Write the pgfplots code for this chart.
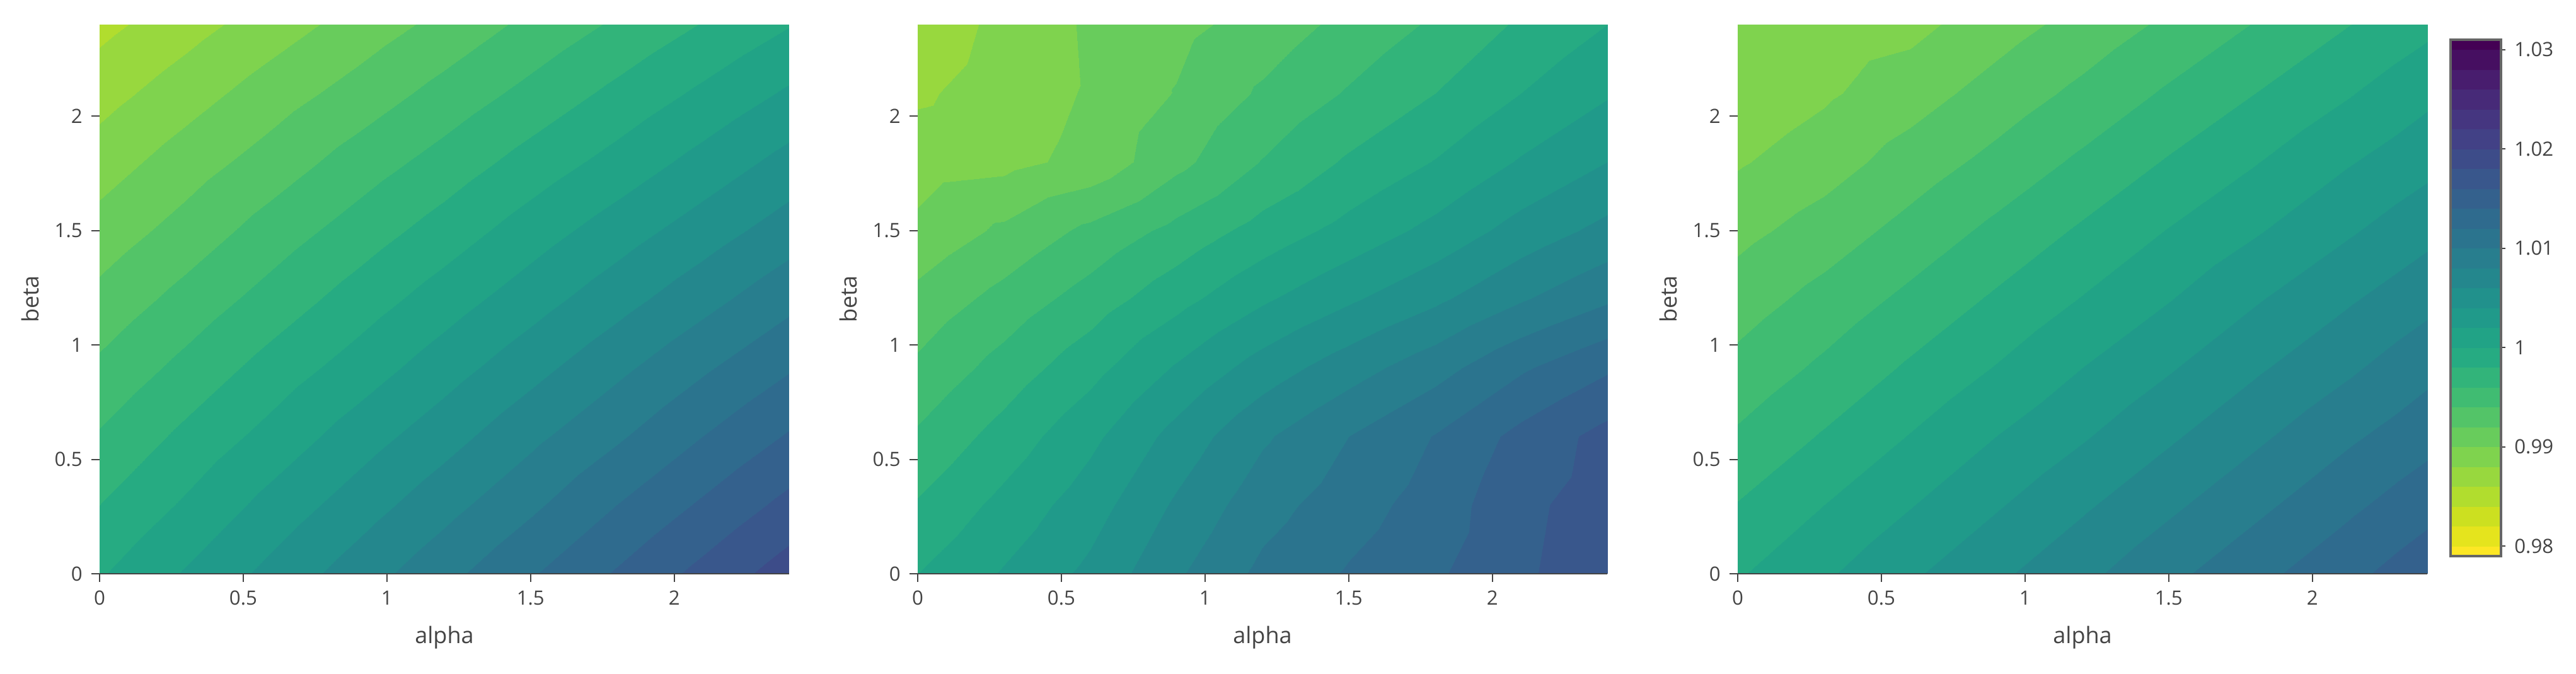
\documentclass[border=0pt]{standalone}
\usepackage{fontspec}
\setmainfont{Open Sans}
\usepackage{pgfplots}
\pgfplotsset{compat=1.18}
\usepackage{pgfplotstable}
\definecolor{axgray}{HTML}{444444}
\definecolor{cbgray}{HTML}{666666}

\pgfplotsset{colormap={plotlyvr}{
rgb255(0pt)=(253,231,37)
rgb255(1pt)=(229,228,29) rgb255(2pt)=(229,228,29)
rgb255(3pt)=(204,224,32) rgb255(4pt)=(204,224,32)
rgb255(5pt)=(177,221,46) rgb255(6pt)=(177,221,46)
rgb255(7pt)=(152,216,62) rgb255(8pt)=(152,216,62)
rgb255(9pt)=(127,211,78) rgb255(10pt)=(127,211,78)
rgb255(11pt)=(104,204,92) rgb255(12pt)=(104,204,92)
rgb255(13pt)=(83,196,104) rgb255(14pt)=(83,196,104)
rgb255(15pt)=(64,188,114) rgb255(16pt)=(64,188,114)
rgb255(17pt)=(50,180,122) rgb255(18pt)=(50,180,122)
rgb255(19pt)=(38,171,130) rgb255(20pt)=(38,171,130)
rgb255(21pt)=(33,163,134) rgb255(22pt)=(33,163,134)
rgb255(23pt)=(32,154,138) rgb255(24pt)=(32,154,138)
rgb255(25pt)=(33,145,140) rgb255(26pt)=(33,145,140)
rgb255(27pt)=(36,135,141) rgb255(28pt)=(36,135,141)
rgb255(29pt)=(40,126,142) rgb255(30pt)=(40,126,142)
rgb255(31pt)=(43,116,142) rgb255(32pt)=(43,116,142)
rgb255(33pt)=(47,107,142) rgb255(34pt)=(47,107,142)
rgb255(35pt)=(52,97,141) rgb255(36pt)=(52,97,141)
rgb255(37pt)=(57,87,140) rgb255(38pt)=(57,87,140)
rgb255(39pt)=(61,76,137) rgb255(40pt)=(61,76,137)
rgb255(41pt)=(66,65,134) rgb255(42pt)=(66,65,134)
rgb255(43pt)=(69,54,128) rgb255(44pt)=(69,54,128)
rgb255(45pt)=(71,42,120) rgb255(46pt)=(71,42,120)
rgb255(47pt)=(72,29,110) rgb255(48pt)=(72,29,110)
rgb255(49pt)=(70,15,97) rgb255(50pt)=(70,15,97)
rgb255(51pt)=(68,1,84) rgb255(52pt)=(68,1,84)
}}

\pgfplotstableread{
x y z
0 0 0.9998
0.3 0 1.0022
0.6 0 1.0046
0.9 0 1.0070
1.2 0 1.0094
1.5 0 1.0118
1.8 0 1.0142
2.1 0 1.0166
2.4 0 1.0190
0 0.3 0.9980
0.3 0.3 1.0003
0.6 0.3 1.0027
0.9 0.3 1.0050
1.2 0.3 1.0073
1.5 0.3 1.0096
1.8 0.3 1.0120
2.1 0.3 1.0143
2.4 0.3 1.0166
0 0.6 0.9962
0.3 0.6 0.9985
0.6 0.6 1.0007
0.9 0.6 1.0030
1.2 0.6 1.0052
1.5 0.6 1.0075
1.8 0.6 1.0097
2.1 0.6 1.0120
2.4 0.6 1.0142
0 0.9 0.9944
0.3 0.9 0.9966
0.6 0.9 0.9988
0.9 0.9 1.0009
1.2 0.9 1.0031
1.5 0.9 1.0053
1.8 0.9 1.0075
2.1 0.9 1.0097
2.4 0.9 1.0118
0 1.2 0.9926
0.3 1.2 0.9947
0.6 1.2 0.9968
0.9 1.2 0.9989
1.2 1.2 1.0010
1.5 1.2 1.0031
1.8 1.2 1.0052
2.1 1.2 1.0073
2.4 1.2 1.0094
0 1.5 0.9908
0.3 1.5 0.9928
0.6 1.5 0.9949
0.9 1.5 0.9969
1.2 1.5 0.9989
1.5 1.5 1.0010
1.8 1.5 1.0030
2.1 1.5 1.0050
2.4 1.5 1.0070
0 1.8 0.9890
0.3 1.8 0.9910
0.6 1.8 0.9929
0.9 1.8 0.9949
1.2 1.8 0.9968
1.5 1.8 0.9988
1.8 1.8 1.0007
2.1 1.8 1.0027
2.4 1.8 1.0047
0 2.1 0.9872
0.3 2.1 0.9891
0.6 2.1 0.9910
0.9 2.1 0.9928
1.2 2.1 0.9947
1.5 2.1 0.9966
1.8 2.1 0.9985
2.1 2.1 1.0004
2.4 2.1 1.0023
0 2.4 0.9854
0.3 2.4 0.9872
0.6 2.4 0.9890
0.9 2.4 0.9908
1.2 2.4 0.9926
1.5 2.4 0.9945
1.8 2.4 0.9963
2.1 2.4 0.9981
2.4 2.4 0.9999
}\tabA

\pgfplotstableread{
x y z
0 0 1.0000
0.3 0 1.0022
0.6 0 1.0045
0.9 0 1.0077
1.2 0 1.0105
1.5 0 1.0122
1.8 0 1.0137
2.1 0 1.0157
2.4 0 1.0172
0 0.3 0.9982
0.3 0.3 1.0006
0.6 0.3 1.0031
0.9 0.3 1.0063
1.2 0.3 1.0092
1.5 0.3 1.0111
1.8 0.3 1.0129
2.1 0.3 1.0155
2.4 0.3 1.0170
0 0.6 0.9963
0.3 0.6 0.9988
0.6 0.6 1.0015
0.9 0.6 1.0047
1.2 0.6 1.0077
1.5 0.6 1.0100
1.8 0.6 1.0121
2.1 0.6 1.0146
2.4 0.6 1.0167
0 0.9 0.9944
0.3 0.9 0.9968
0.6 0.9 0.9993
0.9 0.9 1.0022
1.2 0.9 1.0049
1.5 0.9 1.0071
1.8 0.9 1.0092
2.1 0.9 1.0117
2.4 0.9 1.0137
0 1.2 0.9926
0.3 1.2 0.9947
0.6 1.2 0.9969
0.9 1.2 0.9993
1.2 1.2 1.0017
1.5 1.2 1.0037
1.8 1.2 1.0056
2.1 1.2 1.0078
2.4 1.2 1.0097
0 1.5 0.9905
0.3 1.5 0.9924
0.6 1.5 0.9945
0.9 1.5 0.9966
1.2 1.5 0.9988
1.5 1.5 1.0007
1.8 1.5 1.0026
2.1 1.5 1.0048
2.4 1.5 1.0066
0 1.8 0.9890
0.3 1.8 0.9894
0.6 1.8 0.9906
0.9 1.8 0.9934
1.2 1.8 0.9961
1.5 1.8 0.9983
1.8 1.8 1.0001
2.1 1.8 1.0022
2.4 1.8 1.0040
0 2.1 0.9877
0.3 2.1 0.9889
0.6 2.1 0.9902
0.9 2.1 0.9921
1.2 2.1 0.9943
1.5 2.1 0.9962
1.8 2.1 0.9980
2.1 2.1 1.0000
2.4 2.1 1.0018
0 2.4 0.9868
0.3 2.4 0.9885
0.6 2.4 0.9903
0.9 2.4 0.9914
1.2 2.4 0.9928
1.5 2.4 0.9946
1.8 2.4 0.9963
2.1 2.4 0.9983
2.4 2.4 1.0000
}\tabB

\pgfplotstableread{
x y z
0 0 0.9998
0.3 0 1.0017
0.6 0 1.0037
0.9 0 1.0056
1.2 0 1.0075
1.5 0 1.0095
1.8 0 1.0114
2.1 0 1.0133
2.4 0 1.0153
0 0.3 0.9981
0.3 0.3 1.0000
0.6 0.3 1.0019
0.9 0.3 1.0038
1.2 0.3 1.0057
1.5 0.3 1.0076
1.8 0.3 1.0095
2.1 0.3 1.0114
2.4 0.3 1.0133
0 0.6 0.9963
0.3 0.6 0.9982
0.6 0.6 1.0001
0.9 0.6 1.0020
1.2 0.6 1.0038
1.5 0.6 1.0057
1.8 0.6 1.0076
2.1 0.6 1.0095
2.4 0.6 1.0113
0 0.9 0.9946
0.3 0.9 0.9964
0.6 0.9 0.9983
0.9 0.9 1.0001
1.2 0.9 1.0020
1.5 0.9 1.0038
1.8 0.9 1.0057
2.1 0.9 1.0075
2.4 0.9 1.0094
0 1.2 0.9930
0.3 1.2 0.9947
0.6 1.2 0.9965
0.9 1.2 0.9983
1.2 1.2 1.0001
1.5 1.2 1.0019
1.8 1.2 1.0038
2.1 1.2 1.0056
2.4 1.2 1.0074
0 1.5 0.9914
0.3 1.5 0.9929
0.6 1.5 0.9947
0.9 1.5 0.9965
1.2 1.5 0.9983
1.5 1.5 1.0001
1.8 1.5 1.0018
2.1 1.5 1.0036
2.4 1.5 1.0054
0 1.8 0.9898
0.3 1.8 0.9911
0.6 1.8 0.9929
0.9 1.8 0.9946
1.2 1.8 0.9964
1.5 1.8 0.9982
1.8 1.8 0.9999
2.1 1.8 1.0017
2.4 1.8 1.0034
0 2.1 0.9885
0.3 2.1 0.9897
0.6 2.1 0.9911
0.9 2.1 0.9928
1.2 2.1 0.9945
1.5 2.1 0.9963
1.8 2.1 0.9980
2.1 2.1 0.9997
2.4 2.1 1.0015
0 2.4 0.9884
0.3 2.4 0.9888
0.6 2.4 0.9894
0.9 2.4 0.9911
1.2 2.4 0.9927
1.5 2.4 0.9944
1.8 2.4 0.9961
2.1 2.4 0.9978
2.4 2.4 0.9995
}\tabC

\pgfplotsset{
  cmap/.style={
    colormap name=plotlyvr,
    colormap access=piecewise constant,
    point meta min=0.979, point meta max=1.031,
  },
  panel/.style={
    cmap,
    anchor=south west,
    scale only axis, width=273.5pt, height=217.75pt,
    xmin=0, xmax=2.4, ymin=0, ymax=2.4,
    enlargelimits=false,
    axis on top,
    axis x line*=bottom, axis y line*=left,
    x axis line style={draw=axgray, line width=0.7pt, -},
    y axis line style={draw=none, -},
    tick align=outside,
    major tick length=3.3pt,
    tick style={draw=axgray, line width=0.5pt},
    xtick={0,0.5,1,1.5,2}, xticklabels={0,0.5,1,1.5,2},
    ytick={0,0.5,1,1.5,2}, yticklabels={0,0.5,1,1.5,2},
    tick label style={font=\fontsize{7.8}{9}\selectfont, text=axgray},
    xlabel={alpha}, ylabel={beta},
    label style={font=\fontsize{9}{11}\selectfont, text=axgray},
    xlabel style={at={(axis description cs:0.5,-0.116)}, anchor=center},
    ylabel style={at={(axis description cs:-0.1005,0.5)}, anchor=center},
  },
}

\begin{document}
\begin{tikzpicture}
\begin{axis}[panel, at={(39.5pt,39.75pt)}]
\addplot[surf, shader=interp, mesh/cols=9, point meta=\thisrow{z}] table[x=x, y=y] {\tabA};
\end{axis}
\begin{axis}[panel, at={(364pt,39.75pt)}]
\addplot[surf, shader=interp, mesh/cols=9, point meta=\thisrow{z}] table[x=x, y=y] {\tabB};
\end{axis}
\begin{axis}[panel, at={(689.25pt,39.75pt)}]
\addplot[surf, shader=interp, mesh/cols=9, point meta=\thisrow{z}] table[x=x, y=y] {\tabC};
\end{axis}
\begin{axis}[cmap, at={(972pt,46.75pt)}, anchor=south west,
  scale only axis, width=20pt, height=204.75pt,
  xmin=0, xmax=1, ymin=0.979, ymax=1.031, enlargelimits=false,
  axis on top,
  axis line style={draw=cbgray, line width=0.8pt},
  xtick=\empty,
  ytick={0.98,0.99,1,1.01,1.02,1.03},
  yticklabels={0.98,0.99,1,1.01,1.02,1.03},
  ytick pos=right, yticklabel pos=right,
  tick align=outside, major tick length=1.8pt,
  tick style={draw=axgray, line width=0.5pt},
  tick label style={font=\fontsize{7.8}{9}\selectfont, text=axgray},
]
\addplot[surf, shader=interp, mesh/cols=2, point meta=\thisrow{z}] table[x=x, y=y] {
x y z
0 0.979 0.979
1 0.979 0.979
0 1.031 1.031
1 1.031 1.031
};
\end{axis}
\pgfresetboundingbox
\path[use as bounding box] (0,0) rectangle (1021.75pt,267.25pt);
\end{tikzpicture}
\end{document}
